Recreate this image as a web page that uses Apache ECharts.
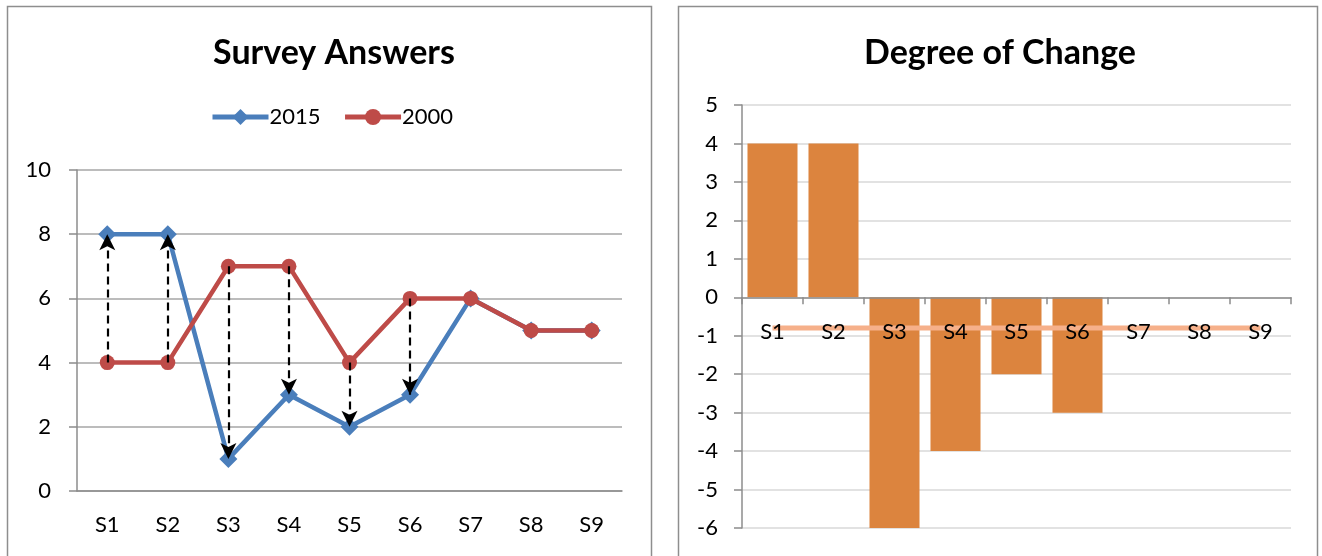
<!DOCTYPE html>
<html>
<head>
<meta charset="utf-8">
<script src="https://cdn.jsdelivr.net/npm/echarts@6/dist/echarts.min.js"></script>
<style>
html,body{margin:0;padding:0;background:#fff;}
#c{width:1322px;height:556px;}
</style>
</head>
<body>
<div id="c"></div>
<script>
// ---- data ----
const categories = ['S1','S2','S3','S4','S5','S6','S7','S8','S9'];
const answers2015 = [8, 8, 1, 3, 2, 3, 6, 5, 5];
const answers2000 = [4, 4, 7, 7, 4, 6, 6, 5, 5];
const changeValues = [4, 4, -6, -4, -2, -3, 0, 0, 0];
const refLineValues = [-0.8, -0.8, -0.8, -0.8, -0.8, -0.8, -0.8, -0.8, -0.8];
const leftTicks = [0, 2, 4, 6, 8, 10];
const rightTicks = [-6, -5, -4, -3, -2, -1, 0, 1, 2, 3, 4, 5];

const FONT = 'Lato, "Open Sans", sans-serif';

// arrows from 2000 value to 2015 value where they differ
const arrowData = [];
categories.forEach((c, i) => {
  if (answers2015[i] !== answers2000[i]) {
    arrowData.push([{coord: [c, answers2000[i]]}, {coord: [c, answers2015[i]]}]);
  }
});

const chart = echarts.init(document.getElementById('c'), null, {renderer: 'canvas'});
const axisGray = '#8C8C8C';

// right grid geometry (used to put the category axis on the zero line)
const rGridTop = 105, rGridHeight = 423;
const rMin = rightTicks[0], rMax = rightTicks[rightTicks.length - 1];
const zeroOffset = -rGridHeight * (0 - rMin) / (rMax - rMin);

chart.setOption({
  animation: false,
  textStyle: {fontFamily: FONT},
  graphic: [
    {type: 'rect', shape: {x: 7.5, y: 6.5, width: 644, height: 560}, style: {fill: 'none', stroke: '#8E8E8E', lineWidth: 1.5}, z: -1},
    {type: 'rect', shape: {x: 678.5, y: 6.5, width: 639, height: 560}, style: {fill: 'none', stroke: '#8E8E8E', lineWidth: 1.5}, z: -1}
  ],
  title: [
    {text: 'Survey Answers', left: 329, top: 31, textAlign: 'center',
     textStyle: {fontFamily: FONT, fontSize: 34, fontWeight: 'bold', color: '#000'}},
    {text: 'Degree of Change', left: 995, top: 31, textAlign: 'center',
     textStyle: {fontFamily: FONT, fontSize: 34, fontWeight: 'bold', color: '#000'}}
  ],
  legend: {
    data: ['2015', '2000'],
    left: 205, top: 101,
    itemWidth: 56, itemHeight: 20, itemGap: 22,
    lineStyle: {width: 5},
    textStyle: {fontFamily: FONT, fontSize: 22, color: '#000', padding: [0, 0, 0, -4]}
  },
  grid: [
    {left: 77, top: 170, width: 545, height: 321, outerBoundsMode: 'none', containLabel: false},
    {left: 742, top: rGridTop, width: 549, height: rGridHeight, outerBoundsMode: 'none', containLabel: false}
  ],
  xAxis: [
    {type: 'category', gridIndex: 0, data: categories, boundaryGap: true,
     axisLine: {lineStyle: {color: axisGray, width: 1.5}},
     axisTick: {show: false},
     axisLabel: {color: '#000', fontSize: 22, margin: 23, fontFamily: FONT},
     splitLine: {show: false}},
    {type: 'category', gridIndex: 1, data: categories, boundaryGap: true, z: 10,
     position: 'bottom', offset: zeroOffset,
     axisLine: {onZero: false, lineStyle: {color: axisGray, width: 1.5}},
     axisTick: {show: true, length: 7, lineStyle: {color: axisGray, width: 1.5}},
     axisLabel: {color: '#000', fontSize: 22, margin: 24, fontFamily: FONT},
     splitLine: {show: false}}
  ],
  yAxis: [
    {type: 'value', gridIndex: 0, min: leftTicks[0], max: leftTicks[leftTicks.length - 1], interval: 2,
     axisLine: {show: true, lineStyle: {color: axisGray, width: 1.5}},
     axisTick: {show: true, length: 8, lineStyle: {color: axisGray, width: 1.5}},
     axisLabel: {color: '#000', fontSize: 22, margin: 26, fontFamily: FONT},
     splitLine: {lineStyle: {color: '#A6A6A6', width: 1.5}}},
    {type: 'value', gridIndex: 1, min: rMin, max: rMax, interval: 1,
     axisLine: {show: true, onZero: false, lineStyle: {color: axisGray, width: 1.5}},
     axisTick: {show: true, length: 8, lineStyle: {color: axisGray, width: 1.5}},
     axisLabel: {color: '#000', fontSize: 22, margin: 24, fontFamily: FONT},
     splitLine: {lineStyle: {color: '#D9D9D9', width: 1.5}}}
  ],
  series: [
    {name: '2015', type: 'line', xAxisIndex: 0, yAxisIndex: 0, data: answers2015,
     symbol: 'diamond', symbolSize: 18, z: 2,
     lineStyle: {color: '#4A7EBB', width: 4.5}, itemStyle: {color: '#4A7EBB'}},
    {name: '2000', type: 'line', xAxisIndex: 0, yAxisIndex: 0, data: answers2000,
     symbol: 'circle', symbolSize: 15, z: 3,
     lineStyle: {color: '#BE4B48', width: 4.5}, itemStyle: {color: '#BE4B48'}},
    {name: 'arrows', type: 'line', xAxisIndex: 0, yAxisIndex: 0, data: [], z: 4,
     markLine: {silent: true, symbol: ['none', 'arrow'], symbolSize: [12, 16], precision: 2,
       label: {show: false},
       lineStyle: {color: '#000', width: 2.2, type: [8, 5]},
       emphasis: {disabled: true},
       data: arrowData}},
    {name: 'Change', type: 'bar', xAxisIndex: 1, yAxisIndex: 1, data: changeValues,
     barWidth: '82%', itemStyle: {color: '#DC843E'}, z: 2},
    {name: 'Ref', type: 'line', xAxisIndex: 1, yAxisIndex: 1, data: refLineValues,
     symbol: 'none', z: 3, lineStyle: {color: '#F6B08A', width: 5}}
  ]
});
</script>
</body>
</html>
